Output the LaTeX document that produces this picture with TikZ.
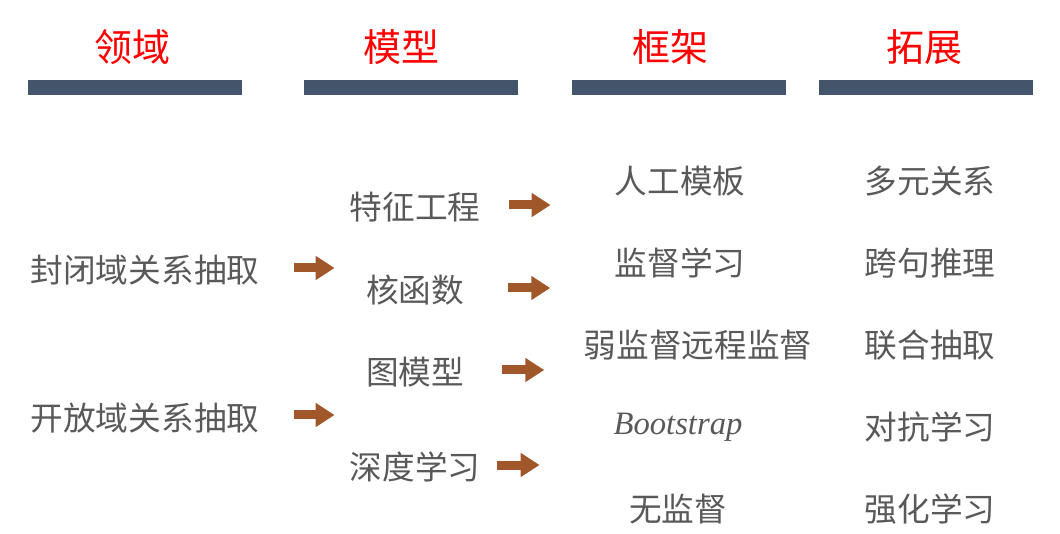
\documentclass[tikz,border=0pt]{standalone}
\usepackage{fontspec}
\setmainfont{Liberation Serif}
\newfontfamily\cjk{Noto Sans CJK SC}
\usetikzlibrary{arrows.meta}
\definecolor{barblue}{HTML}{44546A}
\definecolor{txtgray}{HTML}{595959}
\definecolor{arrbrown}{HTML}{A0582A}
\tikzset{
  head/.style={text=red, font=\cjk\fontsize{28.5}{30}\selectfont, inner sep=0pt},
  item/.style={text=txtgray, font=\cjk\fontsize{24.5}{26}\selectfont, inner sep=0pt},
  bar/.style={fill=barblue},
  blk/.style={arrbrown, line width=6.75pt, -{Triangle[length=14.25pt, width=17.25pt]}}
}

\begin{document}
\begin{tikzpicture}[x=0.75pt, y=-0.75pt]
            \useasboundingbox (0,0) rectangle (1060,534);
            % column heads and bars
            \node[head] (h1) at (132,47) {领域};
            \node[head] (h2) at (401,47) {模型};
            \node[head] (h3) at (670,47) {框架};
            \node[head] (h4) at (924,47) {拓展};
            \fill[bar] (28,80) rectangle (242,95);
            \fill[bar] (304,80) rectangle (518,95);
            \fill[bar] (572,80) rectangle (786,95);
            \fill[bar] (819,80) rectangle (1033,95);

            % domain
            \node[item] (closed) at (145,270) {封闭域关系抽取};
            \node[item] (open) at (145,418) {开放域关系抽取};

            % model
            \node[item] (feat) at (415,207) {特征工程};
            \node[item] (kern) at (415,290) {核函数};
            \node[item] (graph) at (415,372) {图模型};
            \node[item] (deep) at (415,467) {深度学习};

            % framework
            \node[item] (tmpl) at (680,181) {人工模板};
            \node[item] (sup) at (680,263) {监督学习};
            \node[item] (weak) at (698,345) {弱监督远程监督};
            \node[text=txtgray, font=\itshape\fontsize{24.5}{26}\selectfont, inner sep=0pt] (boot) at (678,427) {Bootstrap};
            \node[item] (unsup) at (678,509) {无监督};

            % extension
            \node[item] (nary) at (930,181) {多元关系};
            \node[item] (cross) at (930,263) {跨句推理};
            \node[item] (joint) at (930,345) {联合抽取};
            \node[item] (adv) at (930,427) {对抗学习};
            \node[item] (rl) at (930,509) {强化学习};

            % arrows
            \coordinate (a1) at ([shift={(34,-2)}]closed.east);
            \coordinate (a2) at ([shift={(34,-3)}]open.east);
            \coordinate (a3) at ([shift={(28,-2)}]feat.east);
            \coordinate (a4) at ([shift={(44,-2)}]kern.east);
            \coordinate (a5) at ([shift={(38,-2)}]graph.east);
            \coordinate (a6) at ([shift={(16,-2)}]deep.east);
            \draw[blk] (a1) -- ++(41,0) coordinate (b1);
            \draw[blk] (a2) -- ++(41,0) coordinate (b2);
            \draw[blk] (a3) -- ++(42,0) coordinate (b3);
            \draw[blk] (a4) -- ++(42,0) coordinate (b4);
            \draw[blk] (a5) -- ++(42,0) coordinate (b5);
            \draw[blk] (a6) -- ++(43,0) coordinate (b6);
        \end{tikzpicture}
\end{document}
